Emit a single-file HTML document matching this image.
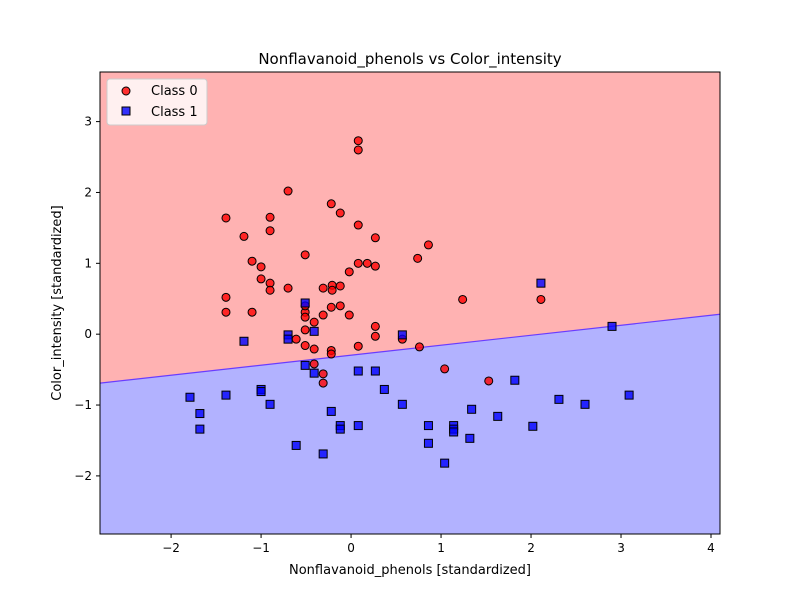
<!DOCTYPE html>
<html><head><meta charset="utf-8"><style>
body{margin:0;background:#fff;font-family:"Liberation Sans","DejaVu Sans",sans-serif}
svg text{font-family:"DejaVu Sans","Liberation Sans",sans-serif;fill:#000}
</style></head><body>
<svg id="chart" width="800" height="600" xmlns="http://www.w3.org/2000/svg"></svg>
<script>
const class0X=[0.08,0.08,-0.70,-1.39,-0.90,-0.22,-0.12,-0.90,-1.19,0.08,0.86,0.27,-0.51,-1.10,-1.00,0.74,0.08,0.18,0.27,-0.02,-0.90,-0.90,-1.00,-0.70,-1.39,-0.31,-0.21,-0.21,-0.12,-0.12,-0.22,-1.39,-1.10,-0.51,-0.51,-0.41,-0.31,-0.02,-0.51,0.27,0.27,-0.61,-0.51,-0.41,-0.41,-0.31,-0.31,0.08,0.57,0.76,1.04,1.53,1.24,2.11,-0.22,-0.22,-0.51];
const class0Y=[2.73,2.60,2.02,1.64,1.65,1.84,1.71,1.46,1.38,1.54,1.26,1.36,1.12,1.03,0.95,1.07,1.00,1.00,0.96,0.88,0.72,0.62,0.78,0.65,0.52,0.65,0.69,0.62,0.68,0.40,0.38,0.31,0.31,0.31,0.24,0.17,0.27,0.27,0.40,0.11,-0.03,-0.07,-0.16,-0.21,-0.42,-0.56,-0.69,-0.17,-0.07,-0.18,-0.49,-0.66,0.49,0.49,-0.23,-0.28,0.06];
const class1X=[2.11,-0.51,-1.19,-0.70,-0.70,-0.41,0.57,2.90,-0.51,-0.41,0.08,0.27,-1.79,-1.68,-1.39,-1.00,-1.00,-0.90,-1.68,-0.61,-0.31,-0.22,-0.12,-0.12,0.08,0.37,0.57,0.86,0.86,1.04,1.34,1.63,1.82,2.02,2.31,2.60,3.09,1.14,1.14,1.14,1.32];
const class1Y=[0.72,0.44,-0.10,-0.01,-0.07,0.04,-0.01,0.11,-0.44,-0.55,-0.52,-0.52,-0.89,-1.12,-0.86,-0.78,-0.81,-0.99,-1.34,-1.57,-1.69,-1.09,-1.29,-1.34,-1.29,-0.78,-0.99,-1.29,-1.54,-1.82,-1.06,-1.16,-0.65,-1.30,-0.92,-0.99,-0.86,-1.29,-1.34,-1.38,-1.47];
const xTicks=[-2,-1,0,1,2,3,4];
const yTicks=[-2,-1,0,1,2,3];
const boundarySlope=0.141, boundaryIntercept=-0.297;
const X0=100,X1=720,Y0=72,Y1=534, xmin=-2.79,xmax=4.1,ymin=-2.82,ymax=3.70;
const sx=v=>X0+(v-xmin)/(xmax-xmin)*(X1-X0);
const sy=v=>Y1-(v-ymin)/(ymax-ymin)*(Y1-Y0);
const NS="http://www.w3.org/2000/svg", svg=document.getElementById('chart');
function mk(t,a,p){const e=document.createElementNS(NS,t);for(const k in a)e.setAttribute(k,a[k]);(p||svg).appendChild(e);return e;}
const yl=boundarySlope*xmin+boundaryIntercept, yr=boundarySlope*xmax+boundaryIntercept;
let r=mk('rect',{x:X0,y:Y0,width:X1-X0,height:Y1-Y0,fill:'#ffb2b2'});


let p=mk('polygon',{points:`${X0},${sy(yl)} ${X1},${sy(yr)} ${X1},${Y1} ${X0},${Y1}`,fill:'#b2b2ff'});


let bl=mk('line',{x1:X0,y1:sy(yl),x2:X1,y2:sy(yr),stroke:'#6a3cff','stroke-width':1.2});


class0X.forEach((v,i)=>{const c=mk('circle',{cx:sx(v),cy:sy(class0Y[i]),r:4,fill:'#ff0000','fill-opacity':0.8,stroke:'#000','stroke-width':1});

});
class1X.forEach((v,i)=>{const c=mk('rect',{x:sx(v)-4,y:sy(class1Y[i])-4,width:8,height:8,fill:'#0000ff','fill-opacity':0.8,stroke:'#000','stroke-width':1});

});
let f=mk('rect',{x:X0,y:Y0,width:X1-X0,height:Y1-Y0,fill:'none',stroke:'#000','stroke-width':1});


xTicks.forEach(t=>{const x=sx(t);mk('line',{x1:x,y1:Y1,x2:x,y2:Y1+4,stroke:'#000'});
const tx=mk('text',{x:x,y:Y1+18,'font-size':12,'text-anchor':'middle'});tx.textContent=t<0?'\u2212'+(-t):t;

});
yTicks.forEach(t=>{const y=sy(t);mk('line',{x1:X0-4,y1:y,x2:X0,y2:y,stroke:'#000'});
const tx=mk('text',{x:X0-8,y:y+4,'font-size':12,'text-anchor':'end'});tx.textContent=t<0?'\u2212'+(-t):t;

});
let tt=mk('text',{x:410,y:64,'font-size':15,'text-anchor':'middle'});tt.textContent='Nonflavanoid_phenols vs Color_intensity';


let xl=mk('text',{x:410,y:574,'font-size':13,'text-anchor':'middle'});xl.textContent='Nonflavanoid_phenols [standardized]';


let ylb=mk('text',{x:0,y:0,'font-size':13,'text-anchor':'middle',transform:'translate(61,303) rotate(-90)'});ylb.textContent='Color_intensity [standardized]';


const lg=mk('g',{});


mk('rect',{x:107,y:79,width:100,height:46,rx:3,fill:'#fff','fill-opacity':0.8,stroke:'#ccc'},lg);
mk('circle',{cx:126,cy:91,r:4,fill:'#ff0000','fill-opacity':0.8,stroke:'#000'},lg);
mk('rect',{x:122,y:107,width:8,height:8,fill:'#0000ff','fill-opacity':0.8,stroke:'#000'},lg);
let l0=mk('text',{x:151,y:95,'font-size':13},lg);l0.textContent='Class 0';


let l1=mk('text',{x:151,y:116,'font-size':13},lg);l1.textContent='Class 1';


</script>
</body></html>
